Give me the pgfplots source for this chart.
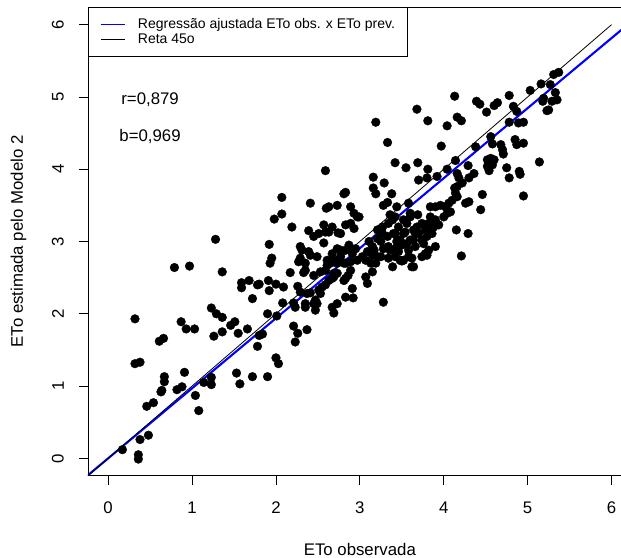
\documentclass[border=0pt]{standalone}
\usepackage{fontspec}
\setmainfont{Liberation Sans}
\usepackage{pgfplots}
\usepackage{pgfplotstable}
\pgfplotsset{compat=1.18}
\newcommand\axfont{\fontsize{16.8bp}{20bp}\selectfont}
\newcommand\lgfont{\fontsize{14bp}{16bp}\selectfont}
\pgfplotstableread{
x y
0.17 0.12
0.36 0.05
0.36 -0.01
0.38 0.26
0.48 0.32
0.46 0.72
0.54 0.77
0.63 0.92
0.64 0.94
0.67 1.06
0.82 0.95
0.88 0.99
1.04 0.87
1.08 0.66
1.14 1.05
1.23 1.12
1.23 1.02
1.57 1.03
1.53 1.18
1.72 1.13
1.90 1.13
0.91 1.19
0.67 1.13
0.32 1.31
0.38 1.33
0.61 1.62
0.66 1.66
0.32 1.93
0.87 1.89
0.93 1.79
1.03 1.79
1.23 2.08
1.29 2.00
1.36 1.95
1.26 1.69
1.36 1.75
1.46 1.84
1.51 1.89
1.55 1.73
1.66 1.79
1.78 1.55
0.79 2.64
0.97 2.66
1.36 2.58
1.59 2.43
1.59 2.36
1.68 2.46
1.78 2.40
1.72 2.21
1.28 3.03
1.84 1.72
1.80 1.70
2.21 1.83
2.26 1.73
2.37 1.78
2.23 1.61
2.00 1.39
2.03 1.31
1.90 2.00
2.01 1.97
2.08 2.15
2.23 2.09
2.21 2.15
2.35 2.14
2.35 2.09
2.47 2.19
2.49 2.14
2.47 2.05
2.83 2.23
2.91 2.35
2.92 2.22
2.73 2.14
2.67 2.09
2.69 2.01
3.28 2.16
1.80 2.41
1.91 2.46
1.92 2.32
2.00 2.41
2.09 2.37
2.26 2.38
2.29 2.30
2.37 2.28
2.41 2.29
2.51 2.33
2.55 2.37
2.59 2.40
1.93 2.70
2.27 2.72
2.35 2.70
2.17 2.57
2.33 2.57
2.45 2.53
2.53 2.58
2.59 2.60
2.61 2.67
2.65 2.70
2.69 2.56
2.67 2.49
2.63 2.46
2.83 2.70
2.89 2.72
3.13 2.70
3.19 2.70
3.15 2.58
3.39 2.65
3.62 2.65
3.50 2.73
2.89 2.60
2.86 2.53
2.83 2.49
3.07 2.51
3.09 2.42
4.21 2.80
2.07 3.61
2.41 3.53
2.60 3.46
2.63 3.48
1.98 3.31
2.07 3.38
2.19 3.20
2.57 3.23
2.59 3.13
2.39 3.15
2.45 3.07
2.51 3.11
2.57 2.98
1.92 2.96
2.31 2.88
2.29 2.77
2.39 2.86
1.95 2.77
2.49 2.79
3.68 4.83
3.19 4.65
3.33 4.37
3.42 4.09
3.55 4.02
3.69 4.09
2.59 3.98
3.16 3.89
3.29 3.81
3.16 3.74
3.19 3.66
3.38 3.66
2.81 3.66
2.83 3.68
2.73 3.50
2.89 3.48
3.28 3.50
3.33 3.54
3.44 3.48
3.58 3.53
2.93 3.39
2.97 3.34
2.67 3.20
2.74 3.12
2.83 3.23
2.89 3.25
2.93 3.18
2.63 3.13
3.11 3.00
3.15 2.93
3.09 2.86
3.27 3.20
3.27 3.11
3.34 3.25
3.39 3.30
3.42 3.34
3.46 3.20
3.52 3.30
3.56 3.25
3.60 3.34
3.42 3.11
3.46 3.02
3.54 3.13
3.60 3.02
3.66 3.11
3.34 2.93
3.42 2.90
3.50 2.95
3.58 2.88
3.66 2.93
2.61 2.74
2.67 2.83
2.73 2.90
2.77 2.79
2.83 2.88
2.87 2.95
2.91 2.83
2.95 2.90
3.03 2.79
3.07 2.74
3.15 2.81
3.25 2.79
3.34 2.77
3.42 2.79
3.52 2.74
3.58 2.79
5.37 5.34
5.31 5.31
5.16 5.18
5.03 5.09
5.27 5.17
5.33 5.06
5.35 4.96
5.29 4.94
5.19 4.98
5.18 4.94
5.23 4.81
5.25 4.82
4.78 5.02
4.13 5.01
4.39 4.94
4.43 4.90
4.60 4.88
4.64 4.92
4.51 4.79
4.83 4.87
4.87 4.80
3.81 4.67
4.04 4.60
4.16 4.72
4.21 4.67
4.78 4.65
4.89 4.64
4.95 4.65
3.97 4.32
4.38 4.31
4.56 4.45
4.58 4.35
4.68 4.34
4.70 4.27
4.71 4.21
4.85 4.41
4.87 4.34
4.95 4.36
5.14 4.10
3.81 4.00
4.04 4.00
4.14 4.12
4.29 4.05
4.36 3.94
4.52 4.13
4.56 4.15
4.60 4.13
4.52 4.04
4.58 4.06
4.54 3.98
4.75 4.02
4.78 3.88
4.90 3.97
4.91 3.93
4.95 3.63
4.46 3.65
4.44 3.44
4.15 3.16
4.29 3.11
3.70 3.85
3.80 3.88
3.92 3.90
4.16 3.94
4.18 3.88
4.22 3.81
4.30 3.88
4.13 3.74
4.14 3.67
4.16 3.62
4.10 3.57
4.06 3.53
4.02 3.48
3.96 3.50
3.90 3.48
3.84 3.48
4.26 3.53
4.30 3.55
4.04 3.39
4.08 3.41
4.00 3.34
3.84 3.34
3.90 3.30
3.82 3.25
3.88 3.20
3.94 3.23
3.74 3.25
3.78 3.16
3.70 3.11
3.74 3.02
3.80 3.07
3.86 3.11
3.78 2.83
3.82 2.88
3.90 2.93
3.74 2.79
3.69 3.37
3.68 3.20
4.16 3.76
2.29 2.93
2.41 2.81
2.35 2.60
2.69 2.74
2.73 2.70
2.77 2.88
2.81 2.46
2.45 2.14
2.53 2.28
2.69 2.51
2.73 2.56
2.77 3.11
3.84 3.16
3.60 3.39
2.99 3.34
3.21 3.16
3.36 3.37
3.21 3.04
3.25 3.00
3.33 3.07
3.40 3.11
3.52 3.11
3.64 3.16
3.48 3.02
3.56 2.97
3.64 3.02
3.76 2.97
3.80 2.81
3.17 2.88
3.21 2.79
3.28 2.90
3.36 2.88
3.44 3.00
3.46 2.86
3.48 2.74
3.62 2.77
3.64 2.65
2.81 2.70
2.97 2.74
}\pts
\begin{document}
\begin{tikzpicture}
\begin{axis}[
  scale only axis, width=543.7bp, height=468.4bp,
  xmin=-0.24, xmax=6.24, ymin=-0.24, ymax=6.24,
  xtick={0,1,2,3,4,5,6}, ytick={0,1,2,3,4,5,6},
  tick align=outside, xtick pos=bottom, ytick pos=left,
  major tick length=9bp,
  tick style={black, line width=0.8bp},
  axis line style={line width=0.9bp},
  /pgf/number format/assume math mode=true,
  ticklabel style={font=\axfont},
  xticklabel style={anchor=north, inner sep=0pt},
  yticklabel style={rotate=90, anchor=south, inner sep=0pt},
  xticklabel shift=17bp,
  yticklabel shift=15bp,
  every axis x label/.style={at={([yshift=-79.5bp]axis description cs:0.5,0)}, anchor=base, font=\axfont},
  every axis y label/.style={at={([xshift=-65bp]axis description cs:0,0.5)}, rotate=90, anchor=base, font=\axfont},
  xlabel={ETo observada},
  ylabel={ETo estimada pelo Modelo 2},
  legend style={at={(rel axis cs:0,1)}, anchor=north west, draw=black, line width=0.9bp, fill=white,
    font=\lgfont, inner xsep=12bp, inner ysep=10.5bp, row sep=2bp,
    nodes={inner sep=0pt, text height=10bp, text depth=3bp},
    /tikz/every odd column/.append style={column sep=12.7bp}},
  legend cell align=left,
  legend image code/.code={\draw[#1, line width=0.8bp] (0bp,0bp) -- (24bp,0bp);},
]
\addplot[only marks, mark=*, mark size=4.4bp, mark options={fill=black, draw=black, line width=0.3bp}, forget plot] table[x=x, y=y] {\pts};
\addplot[blue, line width=2.1bp] coordinates {(-0.5,-0.4845) (6.5,6.2985)};
\addlegendentry{Regressão ajustada ETo obs. x ETo prev.\hspace{-3.6bp}}
\addplot[black, line width=0.8bp] coordinates {(-0.5,-0.5) (6,6)};
\addlegendentry{Reta 45o}
\node[font=\axfont, anchor=base] at (axis cs:0.5,4.90) {r=0,879};
\node[font=\axfont, anchor=base] at (axis cs:0.5,4.39) {b=0,969};
\end{axis}
\pgfresetboundingbox
\useasboundingbox (-88bp,-82.3bp) rectangle (533bp,475.7bp);
\end{tikzpicture}
\end{document}
